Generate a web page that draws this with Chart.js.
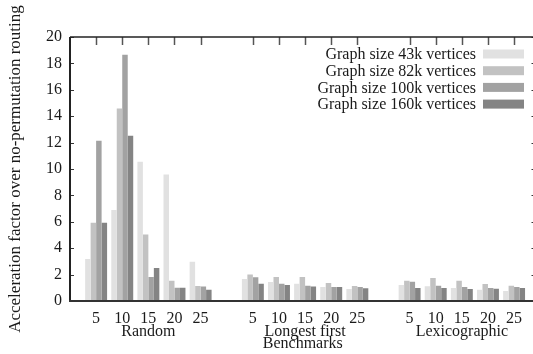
<!DOCTYPE html>
<html>
<head>
<meta charset="utf-8">
<script src="https://cdn.jsdelivr.net/npm/chart.js@4"></script>
<style>
  html, body { margin:0; padding:0; background:#fff; overflow:hidden; }
  #wrap { position:relative; width:540px; height:354px; }
</style>
</head>
<body>
<div id="wrap"><canvas id="chart"></canvas></div>
<script>
// ===== DATA =====
const groups = ['Random', 'Longest first', 'Lexicographic'];
const permSizes = ['5', '10', '15', '20', '25'];
const seriesLabels = ['Graph size 43k vertices', 'Graph size 82k vertices', 'Graph size 100k vertices', 'Graph size 160k vertices'];
const seriesColors = ['#e1e1e1', '#c2c2c2', '#a2a2a2', '#848484'];

// one row per series, 15 values: Random 5..25, Longest first 5..25, Lexicographic 5..25
const g43k  = [3.19, 6.90, 10.54, 9.58, 2.98,  1.67, 1.44, 1.31, 1.06, 0.91,  1.21, 1.11, 0.98, 0.86, 0.76];
const g82k  = [5.92, 14.59, 5.03, 1.54, 1.14,  2.00, 1.82, 1.82, 1.36, 1.14,  1.54, 1.74, 1.54, 1.29, 1.16];
const g100k = [12.14, 18.66, 1.82, 1.01, 1.09, 1.79, 1.31, 1.16, 1.06, 1.06,  1.46, 1.16, 1.06, 0.98, 1.06];
const g160k = [5.92, 12.52, 2.50, 1.01, 0.86,  1.31, 1.21, 1.09, 1.06, 0.96,  0.98, 0.98, 0.91, 0.93, 0.98];
const seriesValues = [g43k, g82k, g100k, g160k];

const yTicks = [0, 2, 4, 6, 8, 10, 12, 14, 16, 18, 20];

// x position of each bar group: one empty slot between benchmark groups
const slotOf = i => Math.floor(i / permSizes.length) * (permSizes.length + 1) + (i % permSizes.length);
const positions = g43k.map((_, i) => slotOf(i));

const FONT = 'Liberation Serif, Times New Roman, serif';
const INK = '#1a1a1a';

// frame, inward ticks and the legend box in the upper right
const framePlugin = {
  id: 'frame',
  afterDraw(chart) {
    const {ctx, chartArea: a, scales: {x, y}} = chart;
    ctx.save();
    ctx.strokeStyle = '#555';
    ctx.lineWidth = 1.5;
    positions.forEach(p => {
      const px = Math.round(x.getPixelForValue(p)) + 0.5;
      ctx.beginPath(); ctx.moveTo(px, a.top); ctx.lineTo(px, a.top + 8); ctx.stroke();
    });
    ctx.strokeStyle = '#333';
    ctx.lineWidth = 1;
    yTicks.forEach(v => {
      const py = Math.round(y.getPixelForValue(v)) + 0.5;
      ctx.beginPath(); ctx.moveTo(a.left, py); ctx.lineTo(a.left + 4, py); ctx.stroke();
      ctx.beginPath(); ctx.moveTo(a.right, py); ctx.lineTo(a.right - 4, py); ctx.stroke();
    });
    ctx.strokeStyle = '#222';
    ctx.lineWidth = 1.5;
    ctx.beginPath(); ctx.moveTo(a.left, a.top); ctx.lineTo(a.right, a.top); ctx.stroke();
    ctx.lineWidth = 2;
    ctx.beginPath(); ctx.moveTo(a.left, a.top); ctx.lineTo(a.left, a.bottom); ctx.stroke();
    ctx.strokeStyle = '#333';
    ctx.lineWidth = 2.2;
    ctx.beginPath(); ctx.moveTo(a.left - 1, a.bottom); ctx.lineTo(a.right, a.bottom); ctx.stroke();

    // legend
    ctx.font = '16px ' + FONT;
    ctx.textAlign = 'right';
    ctx.textBaseline = 'middle';
    chart.data.datasets.forEach((ds, i) => {
      const cy = 54 + i * 16.7;
      ctx.fillStyle = INK;
      ctx.fillText(ds.label, 476, cy + 1);
      ctx.fillStyle = ds.backgroundColor;
      ctx.fillRect(483, cy - 4.5, 41, 9);
    });
    ctx.restore();
  }
};

new Chart(document.getElementById('chart'), {
  type: 'bar',
  data: {
    datasets: seriesValues.map((vals, s) => ({
      label: seriesLabels[s],
      data: vals.map((v, i) => ({x: positions[i], y: v})),
      backgroundColor: seriesColors[s],
      borderWidth: 0,
      categoryPercentage: 0.84,
      barPercentage: 1.0,
    }))
  },
  options: {
    responsive: true, maintainAspectRatio: false, animation: false,
    layout: { padding: { left: 0, top: 37, right: 4.5, bottom: 0 } },
    plugins: { legend: { display: false }, tooltip: { enabled: false } },
    scales: {
      x: {
        type: 'linear', min: -1, max: 16.82, offset: false,
        grid: { display: false, drawTicks: false },
        border: { display: false },
        afterBuildTicks: s => { s.ticks = positions.map(v => ({value: v})); },
        afterFit: s => { s.height = 53; },
        ticks: {
          autoSkip: false, maxRotation: 0, padding: 12, color: INK,
          font: { family: FONT, size: 16, lineHeight: 0.78 },
          callback: v => {
            const i = positions.indexOf(v);
            if (i < 0) return '';
            const sub = i % permSizes.length;
            const lbl = permSizes[sub];
            return sub === 2 ? [lbl, groups[Math.floor(i / permSizes.length)]] : lbl;
          }
        },
        title: { display: true, text: 'Benchmarks', color: INK, padding: { top: 0, bottom: 4 },
                 font: { family: FONT, size: 16, lineHeight: 0.78 } }
      },
      y: {
        min: 0, max: 20,
        grid: { display: false, drawTicks: false },
        border: { display: false },
        afterFit: s => { s.width = 70; },
        ticks: { stepSize: 2, padding: 8, color: INK, font: { family: FONT, size: 16 } },
        title: { display: true, text: 'Acceleration factor over no-permutation routing', color: INK,
                 padding: { top: 7, bottom: 0 }, font: { family: FONT, size: 17, lineHeight: 1 } }
      }
    }
  },
  plugins: [framePlugin]
});
</script>
</body>
</html>
